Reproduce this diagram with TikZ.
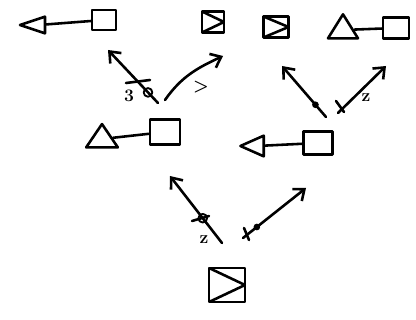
\documentclass[tikz,border=0pt]{standalone}
\usetikzlibrary{arrows.meta,shapes.geometric}
\begin{document}
\begin{tikzpicture}[x=0.03cm,y=-0.03cm,line width=2.2pt,line cap=round,line join=round,
  sq/.style={draw,inner sep=0pt},
  boxtri/.style={sq,path picture={\draw[line width=2.2pt]
      (path picture bounding box.north west) -- (path picture bounding box.east)
      -- (path picture bounding box.south west);}},
  tri/.style={draw,isosceles triangle,isosceles triangle stretches,inner sep=0pt},
  pick/.style={-{Straight Barb[length=8pt,width=13pt]}},
  ring/.style={circle,draw,inner sep=0pt,minimum size=0.26cm,line width=1.6pt},
  blot/.style={circle,fill,inner sep=0pt,minimum size=0.2cm},
  note/.style={font=\bfseries\fontsize{15}{15}\selectfont,inner sep=0pt}]
  % top row
  \node[tri,shape border rotate=180,minimum height=0.75cm,minimum width=0.5cm] (triA) at (39,25) {};
  \node[sq,minimum width=0.72cm,minimum height=0.6cm] (sqA) at (104,20) {};
  \draw (triA) -- (sqA);
  \node[boxtri,minimum width=0.66cm,minimum height=0.63cm] (boxB) at (213,22) {};
  \node[boxtri,minimum width=0.75cm,minimum height=0.63cm] (boxC) at (276,27) {};
  \node[tri,shape border rotate=90,minimum height=0.72cm,minimum width=0.9cm] (triD) at (343,30) {};
  \node[sq,minimum width=0.78cm,minimum height=0.63cm] (sqD) at (396,28) {};
  \draw (triD) -- (sqD);
  % middle row
  \node[tri,shape border rotate=105,minimum height=0.7cm,minimum width=0.95cm] (triE) at (102,139) {};
  \node[sq,minimum width=0.9cm,minimum height=0.75cm] (sqE) at (165,132) {};
  \draw (triE) -- (sqE);
  \node[tri,shape border rotate=185,minimum height=0.7cm,minimum width=0.62cm] (triF) at (257,146) {};
  \node[sq,minimum width=0.87cm,minimum height=0.7cm] (sqF) at (318,143) {};
  \draw (triF) -- (sqF);
  % root
  \node[boxtri,minimum width=1.08cm,minimum height=1.02cm] (boxR) at (227,285) {};
  % moves from the root
  \coordinate (rootL0) at (222,243);
  \coordinate (rootL1) at (170,176);
  \coordinate (rootR0) at (243,238);
  \coordinate (rootR1) at (306,188);
  \draw[pick] (rootL0) -- node[ring,pos=0.37] (ringR) {} (rootL1);
  \draw (192,221) -- (209,216);
  \node[note] (noteR) at (204,240) {z};
  \draw[pick] (rootR0) -- node[blot,pos=0.22] (blotR) {} (rootR1);
  \draw (244,228) -- (249,240);
  % moves from the left pair
  \coordinate (leftL0) at (158,103);
  \coordinate (leftL1) at (108,50);
  \coordinate (leftR0) at (165,100);
  \coordinate (leftR1) at (223,56);
  \draw[pick] (leftL0) -- node[ring,pos=0.2] (ringE) {} (leftL1);
  \draw (126,83) -- (150,80);
  \node[note] (noteE) at (129,96) {3};
  \draw[pick] (leftR0) to[out=55,in=205] (leftR1);
  \node[note] (noteE2) at (201,87) {>};
  % moves from the right pair
  \coordinate (rightL0) at (326,117);
  \coordinate (rightL1) at (282,66);
  \coordinate (rightR0) at (338,113);
  \coordinate (rightR1) at (386,66);
  \draw[pick] (rightL0) -- node[blot,pos=0.24] (blotF) {} (rightL1);
  \draw[pick] (rightR0) -- (rightR1);
  \draw (336,101) -- (344,112);
  \node[note] (noteF) at (366,98) {z};
  \useasboundingbox (0,0) rectangle (416,320);
\end{tikzpicture}
\end{document}
